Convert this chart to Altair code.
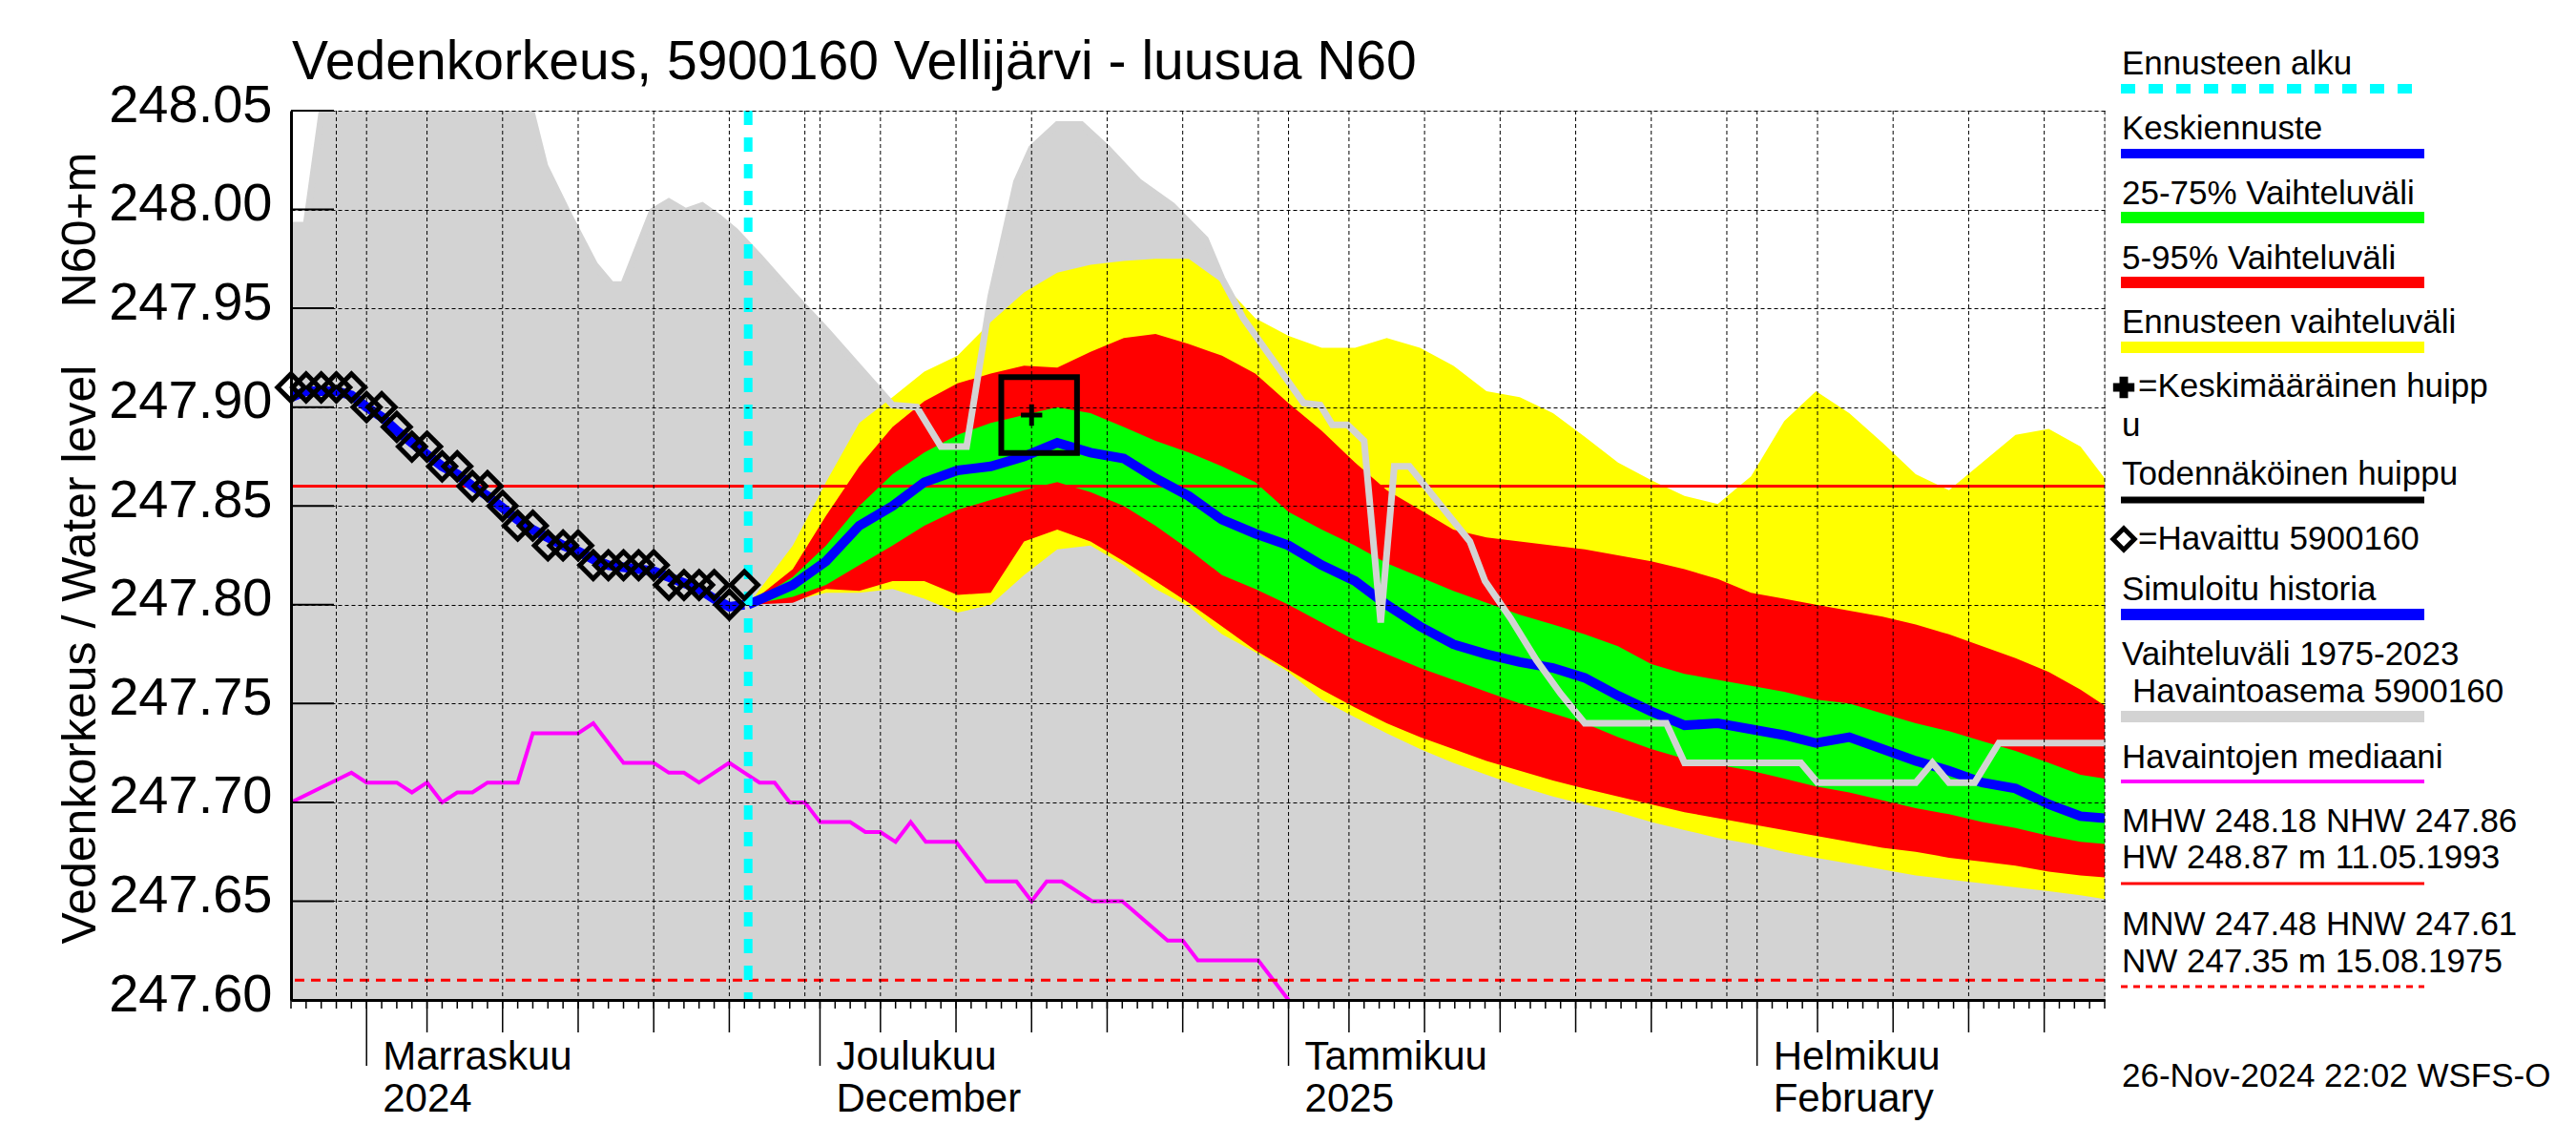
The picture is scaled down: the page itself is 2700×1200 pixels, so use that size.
import altair as alt
import pandas as pd

FONT = "Liberation Sans, Arial, Helvetica, sans-serif"
START = pd.Timestamp("2024-10-27")

# ---------------- data (day offsets from 27.10.2024) ----------------
obs_days = list(range(0, 31))
obs_values = [247.91, 247.91, 247.91, 247.91, 247.91, 247.90, 247.90, 247.89, 247.88, 247.88,
              247.87, 247.87, 247.86, 247.86, 247.85, 247.84, 247.84, 247.83, 247.83, 247.83,
              247.82, 247.82, 247.82, 247.82, 247.82, 247.81, 247.81, 247.81, 247.81, 247.80, 247.81]
sim_values = [247.905, 247.908, 247.908, 247.908, 247.906, 247.900, 247.895, 247.888, 247.882, 247.876,
              247.870, 247.866, 247.860, 247.855, 247.849, 247.843, 247.838, 247.834, 247.830, 247.827,
              247.823, 247.820, 247.819, 247.818, 247.817, 247.814, 247.811, 247.808, 247.803, 247.799, 247.800]

fc_days = [30.25, 33.2, 35.4, 37.6, 39.8, 41.9, 44.1, 46.3, 48.5, 50.7, 52.9, 55.1, 57.2, 59.4,
           61.6, 63.8, 66.0, 68.2, 70.4, 72.5, 74.7, 76.9, 79.1, 81.3, 83.5, 85.6, 87.8, 90.0,
           92.2, 94.4, 96.6, 98.8, 100.9, 103.1, 105.3, 107.5, 109.7, 111.9, 114.1, 116.3, 118.4, 120.0]
fc_median = [247.800, 247.810, 247.822, 247.840, 247.850, 247.862, 247.868, 247.870, 247.875, 247.882,
             247.877, 247.874, 247.864, 247.855, 247.843, 247.836, 247.830, 247.820, 247.812, 247.800,
             247.789, 247.780, 247.775, 247.771, 247.768, 247.763, 247.754, 247.746, 247.739, 247.740,
             247.737, 247.734, 247.730, 247.733, 247.727, 247.721, 247.716, 247.710, 247.707, 247.699,
             247.693, 247.692]
fc_p75 = [247.800, 247.814, 247.830, 247.850, 247.866, 247.877, 247.886, 247.892, 247.896, 247.900,
          247.897, 247.890, 247.883, 247.877, 247.870, 247.862, 247.847, 247.838, 247.830, 247.821,
          247.814, 247.807, 247.801, 247.795, 247.790, 247.785, 247.779, 247.770, 247.765, 247.762,
          247.759, 247.756, 247.752, 247.750, 247.745, 247.740, 247.736, 247.731, 247.726, 247.720,
          247.714, 247.712]
fc_p25 = [247.800, 247.804, 247.810, 247.820, 247.830, 247.840, 247.848, 247.853, 247.858, 247.862,
          247.857, 247.850, 247.840, 247.828, 247.815, 247.808, 247.800, 247.791, 247.782, 247.775,
          247.768, 247.762, 247.756, 247.750, 247.745, 247.740, 247.733, 247.727, 247.722, 247.719,
          247.716, 247.712, 247.708, 247.705, 247.701, 247.697, 247.694, 247.690, 247.687, 247.683,
          247.680, 247.679]
fc_p95 = [247.800, 247.818, 247.845, 247.870, 247.890, 247.903, 247.912, 247.917, 247.921, 247.920,
          247.928, 247.935, 247.937, 247.932, 247.926, 247.917, 247.902, 247.888, 247.872, 247.858,
          247.848, 247.838, 247.834, 247.832, 247.830, 247.828, 247.825, 247.822, 247.818, 247.813,
          247.806, 247.803, 247.800, 247.797, 247.794, 247.790, 247.785, 247.779, 247.773, 247.766,
          247.757, 247.749]
fc_p5 = [247.800, 247.801, 247.808, 247.807, 247.812, 247.812, 247.805, 247.806, 247.832, 247.838,
         247.832, 247.822, 247.812, 247.801, 247.789, 247.777, 247.767, 247.757, 247.748, 247.740,
         247.733, 247.727, 247.721, 247.716, 247.711, 247.707, 247.703, 247.699, 247.695, 247.692,
         247.689, 247.686, 247.683, 247.680, 247.677, 247.675, 247.672, 247.670, 247.668, 247.665,
         247.663, 247.662]
fc_max = [247.800, 247.830, 247.862, 247.892, 247.905, 247.918, 247.926, 247.943, 247.958, 247.968,
          247.972, 247.974, 247.975, 247.975, 247.963, 247.945, 247.936, 247.930, 247.930, 247.935,
          247.930, 247.921, 247.908, 247.905, 247.897, 247.885, 247.872, 247.863, 247.855, 247.851,
          247.865, 247.893, 247.908, 247.897, 247.882, 247.866, 247.858, 247.872, 247.886, 247.889,
          247.880, 247.864]
fc_min = [247.800, 247.802, 247.806, 247.806, 247.808, 247.803, 247.796, 247.800, 247.815, 247.828,
          247.830, 247.820, 247.808, 247.799, 247.785, 247.776, 247.766, 247.752, 247.743, 247.735,
          247.727, 247.720, 247.714, 247.708, 247.703, 247.699, 247.695, 247.690, 247.686, 247.682,
          247.679, 247.675, 247.672, 247.669, 247.666, 247.663, 247.661, 247.659, 247.657, 247.655,
          247.653, 247.651]

hist_days = [0, 1, 2.6, 14.9, 16.8, 18.4, 20.1, 21.2, 22, 23.9, 25, 26.1, 27.2, 28.3, 29.4, 31,
             33.2, 35.4, 37.6, 39.8, 41.4, 43, 44.7, 46.3, 48, 49, 50.7, 52.3, 54, 56.1, 58.3, 60.5,
             61.6, 63, 67, 68.1, 68.9, 69.9, 71, 72.1, 73, 74, 78, 79, 80.7, 82.4, 84, 85.6, 91,
             92.2, 99.9, 101, 107.5, 108.6, 109.7, 111.4, 113, 120]
hist_max = [247.992, 247.992, 248.08, 248.08, 248.022, 247.997, 247.972, 247.962, 247.962, 247.999,
            248.004, 247.999, 248.002, 247.996, 247.989, 247.976, 247.957, 247.939, 247.920, 247.901,
            247.900, 247.880, 247.880, 247.956, 248.014, 248.031, 248.043, 248.043, 248.031, 248.014,
            248.002, 247.985, 247.965, 247.945, 247.902, 247.901, 247.891, 247.891, 247.883, 247.791,
            247.870, 247.870, 247.832, 247.812, 247.793, 247.772, 247.755, 247.740, 247.740, 247.720,
            247.720, 247.710, 247.710, 247.720, 247.710, 247.710, 247.730, 247.730]

med_days = [0, 4, 5, 7, 8, 9, 10, 11, 12, 13, 15, 16, 18, 19, 20, 22, 24, 25, 26, 27, 29, 30, 31,
            32, 33, 34, 35, 37, 38, 39, 40, 41, 42, 44, 46, 48, 49, 50, 51, 52, 53, 55, 58, 59, 60,
            64, 66, 67]
med_values = [247.700, 247.715, 247.710, 247.710, 247.705, 247.710, 247.700, 247.705, 247.705, 247.710,
              247.710, 247.735, 247.735, 247.735, 247.740, 247.720, 247.720, 247.715, 247.715, 247.710,
              247.720, 247.715, 247.710, 247.710, 247.700, 247.700, 247.690, 247.690, 247.685, 247.685,
              247.680, 247.690, 247.680, 247.680, 247.660, 247.660, 247.650, 247.660, 247.660, 247.655,
              247.650, 247.650, 247.630, 247.630, 247.620, 247.620, 247.600, 247.590]

forecast_start = 30.25
peak_box_day, peak_box_value = 49.5, 247.896
peak_mean_day, peak_mean_value = 49.0, 247.896
nhw, hnw = 247.86, 247.61

y_ticks = [247.60, 247.65, 247.70, 247.75, 247.80, 247.85, 247.90, 247.95, 248.00, 248.05]
month_starts = ["2024-11-01", "2024-12-01", "2025-01-01", "2025-02-01"]
month_labels = ["Marraskuu\n2024", "Joulukuu\nDecember", "Tammikuu\n2025", "Helmikuu\nFebruary"]


def d2s(d):
    return (START + pd.Timedelta(days=d)).strftime("%Y-%m-%dT%H:%M:%SZ")


obs_df = pd.DataFrame({"date": [d2s(d) for d in obs_days], "v": obs_values, "s": sim_values})
fc_df = pd.DataFrame({"date": [d2s(d) for d in fc_days], "med": fc_median, "p25": fc_p25,
                      "p75": fc_p75, "p5": fc_p5, "p95": fc_p95, "mn": fc_min, "mx": fc_max})
hist_df = pd.DataFrame({"date": [d2s(d) for d in hist_days], "v": hist_max})
med_df = pd.DataFrame({"date": [d2s(d) for d in med_days], "v": med_values})
fs_df = pd.DataFrame({"date": [d2s(forecast_start)]})
box_df = pd.DataFrame({"date": [d2s(peak_box_day)], "v": [peak_box_value]})
plus_df = pd.DataFrame({"date": [d2s(peak_mean_day)], "v": [peak_mean_value]})
lvl_df = pd.DataFrame({"v": [nhw]})
lvl2_df = pd.DataFrame({"v": [hnw]})
ytick_df = pd.DataFrame({"v": y_ticks})

days_all = pd.date_range("2024-10-27", "2025-02-24", freq="D")
daily_df = pd.DataFrame({"date": [t.strftime("%Y-%m-%dT00:00:00Z") for t in days_all]})
mid_df = pd.DataFrame({"date": [t.strftime("%Y-%m-%dT00:00:00Z") for t in days_all
                                if t.day in (5, 10, 15, 20, 25)]})
grid_df = pd.DataFrame({"date": [t.strftime("%Y-%m-%dT00:00:00Z") for t in days_all
                                 if t.day in (1, 5, 10, 15, 20, 25, 30)] + [d2s(120)]})
month_df = pd.DataFrame({"date": [m + "T00:00:00Z" for m in month_starts], "lab": month_labels})
ONE = pd.DataFrame({"k": [0]})

W, H = 1901, 932

XSCALE = alt.Scale(type="utc", domain=[alt.DateTime(year=2024, month=10, date=27, utc=True),
                                       alt.DateTime(year=2025, month=2, date=24, utc=True)])
XAXIS = alt.Axis(labels=False, ticks=False, grid=False, domainColor="black", domainWidth=3,
                 title=None, zindex=1)
YSCALE = alt.Scale(domain=[247.60, 248.05], nice=False, zero=False)
YAXIS = alt.Axis(values=y_ticks, format=".2f", grid=True, gridColor="black", gridDash=[4, 3],
                 gridWidth=1, gridOpacity=1, ticks=False, tickSize=0, labelFont=FONT,
                 labelFontSize=56, labelColor="black", labelPadding=20, labelOffset=-6,
                 labelFlush=False, labelOverlap=False, domainColor="black", domainWidth=3,
                 title=None, zindex=1)


def X(f="date"):
    return alt.X(f, type="temporal", scale=XSCALE, axis=XAXIS)


def Y(f):
    return alt.Y(f, type="quantitative", scale=YSCALE, axis=YAXIS)


layers = []
# historical range (gray)
layers.append(alt.Chart(hist_df).mark_area(color="#d3d3d3", clip=True, opacity=1)
              .encode(x=X(), y=Y("v"), y2=alt.datum(247.5)))
# forecast bands
for lo, hi, col in [("mn", "mx", "#ffff00"), ("p5", "p95", "#ff0000"), ("p25", "p75", "#00ff00")]:
    layers.append(alt.Chart(fc_df).mark_area(color=col, clip=True, opacity=1)
                  .encode(x=X(), y=Y(lo), y2=alt.Y2(hi)))
# median of observations
layers.append(alt.Chart(med_df).mark_line(color="#ff00ff", strokeWidth=4, clip=True)
              .encode(x=X(), y=Y("v")))
# NHW / HNW levels
layers.append(alt.Chart(lvl_df).mark_rule(color="#ff0000", strokeWidth=3).encode(y=Y("v")))
layers.append(alt.Chart(lvl2_df).mark_rule(color="#ff0000", strokeWidth=3, strokeDash=[10, 7])
              .encode(y=Y("v")))
# median forecast & simulated history
layers.append(alt.Chart(fc_df).mark_line(color="#0000ff", strokeWidth=10, clip=True)
              .encode(x=X(), y=Y("med")))
layers.append(alt.Chart(obs_df).mark_line(color="#0000ff", strokeWidth=10, clip=True)
              .encode(x=X(), y=Y("s")))
# historical max line over the bands
layers.append(alt.Chart(hist_df).mark_line(color="#d3d3d3", strokeWidth=7, clip=True)
              .encode(x=X(), y=Y("v")))
# forecast start
layers.append(alt.Chart(fs_df).mark_rule(color="#00ffff", strokeWidth=9, strokeDash=[15, 13])
              .encode(x=X()))
# observations
layers.append(alt.Chart(obs_df).mark_point(shape="diamond", filled=False, color="black",
                                           strokeWidth=5, size=800, opacity=1)
              .encode(x=X(), y=Y("v")))
# vertical grid
layers.append(alt.Chart(grid_df).mark_rule(color="black", strokeWidth=1, strokeDash=[4, 3])
              .encode(x=X()))
# peak markers
layers.append(alt.Chart(box_df).mark_point(shape="square", filled=False, color="black",
                                           strokeWidth=6, size=6300, opacity=1)
              .encode(x=X(), y=Y("v")))
layers.append(alt.Chart(plus_df).mark_point(shape="M-1,0L1,0M0,-1L0,1", filled=False, color="black",
                                            strokeWidth=5, size=500, opacity=1)
              .encode(x=X(), y=Y("v")))
# inward y ticks
layers.append(alt.Chart(ytick_df).mark_rule(color="black", strokeWidth=2)
              .encode(y=Y("v"), x=alt.value(0), x2=alt.value(45)))
# x ticks
layers.append(alt.Chart(daily_df).mark_rule(color="black", strokeWidth=1.5)
              .encode(x=X(), y=alt.value(H), y2=alt.value(H + 9)))
layers.append(alt.Chart(mid_df).mark_rule(color="black", strokeWidth=1.5)
              .encode(x=X(), y=alt.value(H), y2=alt.value(H + 34)))
layers.append(alt.Chart(month_df).mark_rule(color="black", strokeWidth=1.5)
              .encode(x=X(), y=alt.value(H), y2=alt.value(H + 69)))
layers.append(alt.Chart(month_df).mark_text(align="left", baseline="alphabetic", font=FONT,
                                            fontSize=42, color="black", lineBreak="\n",
                                            lineHeight=44, dx=17)
              .encode(x=X(), y=alt.value(H + 73), text="lab:N"))


def txt(s, x, y, size=35, angle=None, align="left"):
    kw = dict(text=s, align=align, baseline="alphabetic", font=FONT, fontSize=size, color="black")
    if angle is not None:
        kw["angle"] = angle
    return alt.Chart(ONE).mark_text(**kw).encode(x=alt.value(x), y=alt.value(y))


LX0, LX1 = 1918, 2236


def lrule(y, color, width, dash=None):
    kw = dict(color=color, strokeWidth=width)
    if dash:
        kw["strokeDash"] = dash
    return alt.Chart(ONE).mark_rule(**kw).encode(x=alt.value(LX0), x2=alt.value(LX1), y=alt.value(y))


# titles
layers.append(txt("Vedenkorkeus, 5900160 Vellijärvi - luusua N60", 1, -33, size=57))
layers.append(txt("N60+m", -205, 125, size=50, angle=270, align="center"))
layers.append(txt("Vedenkorkeus / Water level", -205, 570, size=50, angle=270, align="center"))

# legend
LT = 1919
layers += [
    txt("Ennusteen alku", LT, -38), lrule(-23, "#00ffff", 10, [15, 14]),
    txt("Keskiennuste", LT, 30), lrule(45, "#0000ff", 10),
    txt("25-75% Vaihteluväli", LT, 98), lrule(112, "#00ff00", 12),
    txt("5-95% Vaihteluväli", LT, 166), lrule(180, "#ff0000", 12),
    txt("Ennusteen vaihteluväli", LT, 233), lrule(248, "#ffff00", 12),
    txt("=Keskimääräinen huipp", 1936, 300), txt("u", LT, 341),
    txt("Todennäköinen huippu", LT, 392), lrule(408, "black", 7),
    txt("=Havaittu 5900160", 1936, 460),
    txt("Simuloitu historia", LT, 513), lrule(528, "#0000ff", 12),
    txt("Vaihteluväli 1975-2023", LT, 581), txt("Havaintoasema 5900160", LT + 11, 620),
    lrule(635, "#d3d3d3", 12),
    txt("Havaintojen mediaani", LT, 689), lrule(703, "#ff00ff", 4),
    txt("MHW 248.18 NHW 247.86", LT, 756), txt("HW 248.87 m 11.05.1993", LT, 794),
    lrule(810, "#ff0000", 3),
    txt("MNW 247.48 HNW 247.61", LT, 864), txt("NW 247.35 m 15.08.1975", LT, 903),
    lrule(918, "#ff0000", 3, [7, 6]),
    txt("26-Nov-2024 22:02 WSFS-O", LT, 1023),
]
layers.append(alt.Chart(ONE).mark_point(shape="cross", filled=True, color="black", size=500, opacity=1)
              .encode(x=alt.value(1921), y=alt.value(290)))
layers.append(alt.Chart(ONE).mark_point(shape="diamond", filled=False, color="black", strokeWidth=5,
                                        size=500, opacity=1)
              .encode(x=alt.value(1921), y=alt.value(449)))

chart = alt.layer(*layers).properties(
    width=W, height=H,
    autosize=alt.AutoSizeParams(type="none"),
    padding={"left": 297, "top": 108, "right": 486, "bottom": 140},
).configure_view(stroke=None).configure(background="white")

chart.save("out.html", embed_options={"renderer": "svg", "actions": False})
